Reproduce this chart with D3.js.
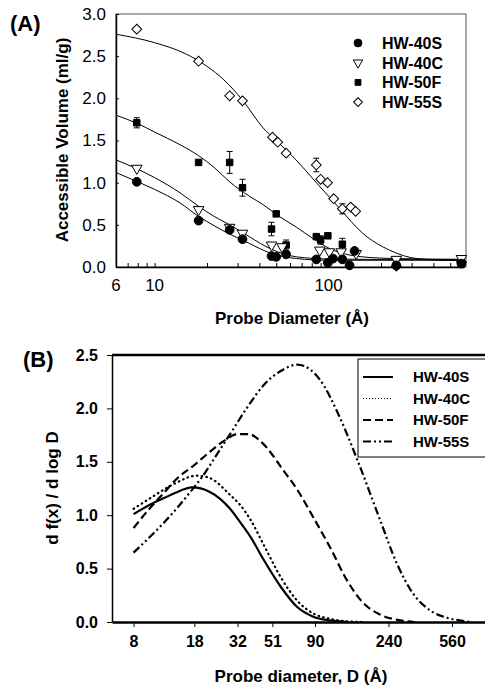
<!DOCTYPE html>
<html lang="en">
<head>
  <meta charset="UTF-8" />
  <title>Accessible volume and pore size distribution</title>
  <script src="https://d3js.org/d3.v7.min.js"></script>
  <style>
    body {
      margin: 0;
      background: #fff;
    }
    svg text {
      font-family: "Liberation Sans", Arial, sans-serif;
      fill: #000;
    }
  </style>
</head>
<body>
  <svg width="485" height="687"></svg>

  <script>
    // ---- panel A: measured points [diameter Å, ml/g] ----
    const seriesNames = ["HW-40S", "HW-40C", "HW-50F", "HW-55S"];

    const pts40S = [[7.9,1.01],[17.9,0.55],[27,0.44],[32,0.33],[47,0.13],[50,0.12],[57,0.15],[85,0.09],[99,0.05],[106,0.10],[120,0.09],[132,0.02],[141,0.19],[245,0.02],[580,0.04]];
    const pts40C = [[7.9,1.17],[17.9,0.68],[27,0.47],[32,0.40],[47,0.26],[54,0.24],[89,0.20],[101,0.18],[118,0.18],[144,0.16],[245,0.09],[580,0.10]];
    const pts50F = [[7.9,1.71],[17.9,1.24],[27,1.24],[32,0.94],[47,0.45],[50,0.63],[57,0.26],[85,0.36],[90,0.32],[99,0.37],[120,0.27],[245,0.02],[580,0.04]];
    const pts55S = [[7.9,2.82],[17.9,2.44],[27,2.03],[32,1.97],[47.6,1.54],[51,1.48],[57,1.35],[85,1.21],[90,1.04],[98.6,1.00],[107,0.81],[120,0.69],[134,0.71],[143,0.66],[245,0.01],[580,0.06]];

    // error bars [diameter, value, +/-]
    const err50F = [[7.9,1.71,0.06],[27,1.24,0.13],[32,0.94,0.10],[47,0.45,0.08],[57,0.26,0.06],[90,0.32,0.05],[120,0.27,0.07]];
    const err55S = [[85,1.21,0.08],[120,0.69,0.06]];

    // fitted curves
    const fit40S = [[6,1.12],[8,1.01],[10,0.92],[14,0.76],[17.9,0.60],[22,0.49],[27,0.39],[32,0.32],[35,0.28],[47,0.16],[65.6,0.10],[100,0.08],[200,0.08],[600,0.08]];
    const fit40C = [[6,1.27],[8,1.16],[10,1.06],[14,0.88],[17.9,0.72],[22,0.60],[27,0.50],[32,0.41],[35,0.36],[47,0.21],[65.6,0.12],[100,0.095],[200,0.09],[600,0.09]];
    const fit50F = [[6,1.80],[8,1.70],[10,1.60],[14,1.45],[17.9,1.32],[22,1.18],[27,1.01],[35,0.84],[42,0.74],[52,0.60],[65.6,0.47],[81,0.34],[101,0.22],[157,0.12],[245,0.10],[600,0.09]];
    const fit55S = [[6,2.76],[10,2.66],[15,2.53],[20,2.38],[25,2.22],[32,1.98],[42,1.65],[50,1.50],[65,1.27],[85,1.00],[115,0.70],[157,0.40],[224,0.20],[321,0.10],[477,0.08],[600,0.08]];

    const yTicksA = [0, 0.5, 1.0, 1.5, 2.0, 2.5, 3.0];
    const xLabelsA = [6, 10, 100];

    // ---- panel B: d f(x) / d log D ----
    const dist40S = [[8,1.01],[10,1.10],[12,1.16],[14,1.21],[17.5,1.26],[22,1.22],[29,1.06],[33,0.94],[38,0.80],[45.5,0.58],[57,0.33],[71,0.14],[88,0.05],[110,0.015],[140,0.0]];
    const dist40C = [[8,1.06],[10,1.16],[12,1.24],[14,1.30],[18.5,1.37],[22,1.35],[29,1.19],[33,1.10],[38,0.96],[45.5,0.72],[57,0.42],[71,0.20],[88,0.08],[110,0.03],[140,0.005],[170,0.0]];
    const dist50F = [[8,0.88],[10,1.07],[12,1.21],[14,1.33],[18,1.47],[22,1.59],[27,1.70],[32,1.76],[37,1.76],[45,1.67],[59,1.42],[71,1.24],[88,0.98],[110,0.70],[138,0.39],[171,0.18],[214,0.07],[270,0.02],[340,0.0]];
    const dist55S = [[8,0.65],[10,0.80],[12,0.93],[14,1.05],[17.5,1.24],[20,1.36],[25,1.60],[29,1.76],[36.5,2.01],[45.5,2.22],[57,2.35],[71,2.41],[85,2.36],[96,2.27],[125,1.92],[160,1.50],[214,0.96],[268,0.55],[332,0.27],[417,0.11],[523,0.04],[646,0.01],[720,0.0]];

    const yTicksB = [0, 0.5, 1.0, 1.5, 2.0, 2.5];
    const xTicksB = [8, 18, 32, 51, 90, 240, 560];

    const svg = d3.select("svg");

    // =========================== panel A ===========================
    const xA = d3.scaleLog().domain([6, 600]).range([116, 464]);
    const yA = d3.scaleLinear().domain([0, 3]).range([267, 14]);
    const gA = svg.append("g");

    // frame
    gA.append("rect")
      .attr("x", 116).attr("y", 14)
      .attr("width", 350).attr("height", 253)
      .attr("fill", "none").attr("stroke", "#555").attr("stroke-width", 1);

    // y axis
    const yAxisA = gA.append("g")
      .attr("transform", "translate(116,0)")
      .call(d3.axisLeft(yA).tickValues(yTicksA).tickFormat(d3.format(".1f")).tickSizeInner(-3).tickSizeOuter(0).tickPadding(10));
    yAxisA.select(".domain").attr("stroke", "#000").attr("stroke-width", 1.5);
    yAxisA.selectAll("text").attr("font-size", 17);

    // x axis, inward minor ticks
    const minorA = [];
    [1, 10, 100].forEach(dec => d3.range(2, 10).forEach(m => {
      const v = m * dec;
      if (v >= 6 && v <= 600) minorA.push(v);
    }));
    const xAxisA = gA.append("g")
      .attr("transform", "translate(0,267)")
      .call(d3.axisBottom(xA).tickValues(minorA.concat([10, 100])).tickSizeInner(-4).tickSizeOuter(0).tickFormat(""));
    xAxisA.select(".domain").attr("stroke", "#000").attr("stroke-width", 1.5);
    gA.selectAll(".xlabA")
      .data(xLabelsA)
      .join("text")
      .attr("x", d => xA(d))
      .attr("y", 291)
      .attr("text-anchor", "middle")
      .attr("font-size", 17)
      .text(d => d);

    // fits
    const lineA = d3.line()
      .x(d => xA(d[0]))
      .y(d => yA(d[1]))
      .curve(d3.curveMonotoneX);
    [fit40S, fit40C, fit50F, fit55S].forEach(f => {
      gA.append("path")
        .attr("d", lineA(f))
        .attr("fill", "none")
        .attr("stroke", "#000")
        .attr("stroke-width", 1);
    });

    // error bars
    err50F.concat(err55S).forEach(e => {
      const x = xA(e[0]);
      gA.append("path")
        .attr("d", `M${x},${yA(e[1] - e[2])}V${yA(e[1] + e[2])}M${x - 3},${yA(e[1] - e[2])}h6M${x - 3},${yA(e[1] + e[2])}h6`)
        .attr("stroke", "#000").attr("fill", "none").attr("stroke-width", 1);
    });

    // symbols
    const markers = [
      { name: seriesNames[0], data: pts40S, type: d3.symbolCircle, size: 60, fill: "#000", rot: 0 },
      { name: seriesNames[1], data: pts40C, type: d3.symbolTriangle, size: 48, fill: "#fff", rot: 180 },
      { name: seriesNames[2], data: pts50F, type: d3.symbolSquare, size: 42, fill: "#000", rot: 0 },
      { name: seriesNames[3], data: pts55S, type: d3.symbolSquare, size: 48, fill: "#fff", rot: 45 }
    ];
    markers.slice().reverse().forEach(m => {
      gA.append("g").selectAll("path")
        .data(m.data)
        .join("path")
        .attr("d", d3.symbol().type(m.type).size(m.size))
        .attr("transform", d => `translate(${xA(d[0])},${yA(d[1])}) rotate(${m.rot})`)
        .attr("fill", m.fill)
        .attr("stroke", "#000")
        .attr("stroke-width", 1);
    });

    // legend A
    const legA = gA.append("g").attr("transform", "translate(358,43)");
    markers.forEach((m, i) => {
      legA.append("path")
        .attr("d", d3.symbol().type(m.type).size(m.size * 0.8))
        .attr("transform", `translate(0,${i * 19.7}) rotate(${m.rot})`)
        .attr("fill", m.fill).attr("stroke", "#000").attr("stroke-width", 1);
      legA.append("text")
        .attr("x", 24).attr("y", i * 19.7 + 6)
        .attr("font-size", 16).attr("font-weight", "bold")
        .text(m.name);
    });

    // titles A
    svg.append("text").attr("x", 10).attr("y", 31)
      .attr("font-size", 22).attr("font-weight", "bold").text("(A)");
    svg.append("text").attr("x", 292).attr("y", 324)
      .attr("text-anchor", "middle").attr("font-size", 17).attr("font-weight", "bold")
      .text("Probe Diameter (Å)");
    svg.append("text")
      .attr("transform", "translate(68,140) rotate(-90)")
      .attr("text-anchor", "middle").attr("font-size", 17).attr("font-weight", "bold")
      .text("Accessible Volume (ml/g)");

    // =========================== panel B ===========================
    const xB = d3.scaleLog().domain([6, 870]).range([112, 485]);
    const yB = d3.scaleLinear().domain([0, 2.5]).range([622, 355]);
    const gB = svg.append("g");

    gB.append("line")
      .attr("x1", 112).attr("x2", 485).attr("y1", 355).attr("y2", 355)
      .attr("stroke", "#000").attr("stroke-width", 2.5);

    const yAxisB = gB.append("g")
      .attr("transform", "translate(112,0)")
      .call(d3.axisLeft(yB).tickValues(yTicksB).tickFormat(d3.format(".1f")).tickSizeInner(5).tickSizeOuter(0).tickPadding(9));
    yAxisB.select(".domain").attr("stroke", "#000").attr("stroke-width", 1.5);
    yAxisB.selectAll("text").attr("font-size", 16).attr("font-weight", "bold");

    const xAxisB = gB.append("g")
      .attr("transform", "translate(0,622)")
      .call(d3.axisBottom(xB).tickValues(xTicksB).tickFormat(d => d).tickSizeInner(5).tickSizeOuter(0).tickPadding(9));
    xAxisB.select(".domain").attr("stroke", "#000").attr("stroke-width", 2.5);
    xAxisB.selectAll("text").attr("font-size", 16).attr("font-weight", "bold");

    const lineB = d3.line()
      .x(d => xB(d[0]))
      .y(d => yB(d[1]))
      .curve(d3.curveMonotoneX);
    const stylesB = [
      { name: seriesNames[0], data: dist40S, dash: null, cap: "butt" },
      { name: seriesNames[1], data: dist40C, dash: "0.6,4.2", cap: "round" },
      { name: seriesNames[2], data: dist50F, dash: "8,4", cap: "butt" },
      { name: seriesNames[3], data: dist55S, dash: "8,3,2,3,2,3", cap: "butt" }
    ];
    stylesB.forEach(s => {
      gB.append("path")
        .attr("d", lineB(s.data))
        .attr("fill", "none")
        .attr("stroke", "#000")
        .attr("stroke-width", 2.2)
        .attr("stroke-linecap", s.cap)
        .attr("stroke-dasharray", s.dash);
    });

    // legend B
    gB.append("rect")
      .attr("x", 358).attr("y", 359).attr("width", 140).attr("height", 98)
      .attr("fill", "#fff").attr("stroke", "#000").attr("stroke-width", 1);
    stylesB.forEach((s, i) => {
      const y = 377 + i * 21.5;
      gB.append("line")
        .attr("x1", 363).attr("x2", 393).attr("y1", y).attr("y2", y)
        .attr("stroke", "#000")
        .attr("stroke-width", i === 1 ? 1.2 : 2)
        .attr("stroke-dasharray", i === 1 ? "1,2" : s.dash);
      gB.append("text")
        .attr("x", 413).attr("y", y + 5)
        .attr("font-size", 15).attr("font-weight", "bold")
        .text(s.name);
    });

    // titles B
    svg.append("text").attr("x", 23).attr("y", 367)
      .attr("font-size", 22).attr("font-weight", "bold").text("(B)");
    svg.append("text").attr("x", 301).attr("y", 682)
      .attr("text-anchor", "middle").attr("font-size", 17).attr("font-weight", "bold")
      .text("Probe diameter, D (Å)");
    svg.append("text")
      .attr("transform", "translate(58,488) rotate(-90)")
      .attr("text-anchor", "middle").attr("font-size", 17).attr("font-weight", "bold")
      .text("d f(x) / d log D");
  </script>
</body>
</html>
